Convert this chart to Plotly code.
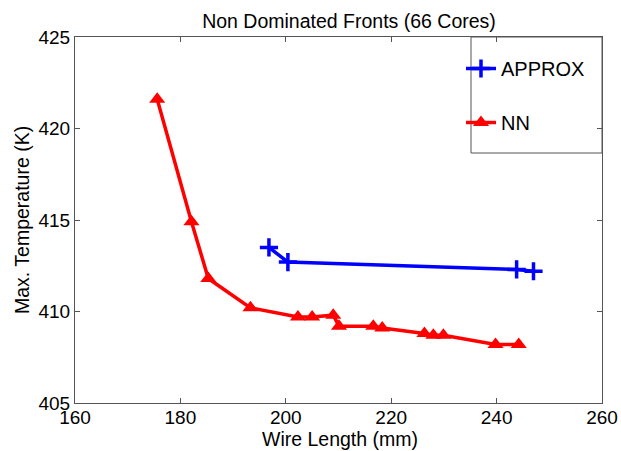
import plotly.graph_objects as go

approx_x = [196.8, 200.4, 243.8, 247.0]
approx_y = [413.5, 412.7, 412.3, 412.2]

nn_x = [175.6, 182.1, 185.3, 193.3, 202.3, 205.0, 209.0, 210.1, 216.6, 218.3, 226.3, 228.0, 229.9, 239.8, 244.2]
nn_y = [421.6, 414.9, 411.8, 410.2, 409.7, 409.7, 409.8, 409.2, 409.2, 409.1, 408.8, 408.7, 408.7, 408.2, 408.2]

x_ticks = [160, 180, 200, 220, 240, 260]
y_ticks = [405, 410, 415, 420, 425]

FONT = "Liberation Sans, Arial, sans-serif"
AX = "#555555"

L, R, T, B = 75, 19, 37, 48
W, H = 621, 451
PW, PH = W - L - R, H - T - B

fig = go.Figure()
fig.add_trace(go.Scatter(
    x=approx_x, y=approx_y, name="APPROX", mode="lines+markers",
    line=dict(color="#0000ff", width=3.5),
    marker=dict(symbol="cross-thin", size=13, line=dict(color="#0000ff", width=3.5)),
    legendgroup="a",
))
fig.add_trace(go.Scatter(
    x=nn_x, y=nn_y, name="NN", mode="lines+markers",
    line=dict(color="#ff0000", width=3.5),
    marker=dict(symbol="triangle-up", size=14, color="#ff0000"),
    legendgroup="b",
))

axis_common = dict(
    showgrid=False, zeroline=False, showline=True, linecolor=AX, linewidth=1,
    mirror="ticks", ticks="inside", ticklen=5, tickcolor=AX, automargin=False,
    tickfont=dict(family=FONT, size=19, color="#000000"),
)

fig.update_layout(
    width=W, height=H,
    margin=dict(l=L, r=R, t=T, b=B, autoexpand=False),
    paper_bgcolor="white", plot_bgcolor="white",
    font=dict(family=FONT, color="#000000"),
    title=dict(text="Non Dominated Fronts (66 Cores)", x=349/621, xanchor="center",
               y=1 - 21/451, yanchor="middle", font=dict(size=19.5, family=FONT)),
    xaxis=dict(range=[160, 260], tickvals=x_ticks, ticktext=[str(v) for v in x_ticks],
               ticklabelstandoff=-3, **axis_common),
    yaxis=dict(range=[405, 425], tickvals=y_ticks, ticktext=[str(v) for v in y_ticks],
               ticklabelstandoff=0, **axis_common),
    legend=dict(x=(461 - L) / PW, xanchor="left", y=(H - B - 49) / PH, yanchor="top",
                bgcolor="rgba(0,0,0,0)", borderwidth=0,
                font=dict(size=20, family=FONT), tracegroupgap=25,
                traceorder="grouped"),
    shapes=[dict(type="rect", xref="paper", yref="paper",
                 x0=(471 - L) / PW, x1=1.0, y0=(H - B - 153) / PH, y1=1.0,
                 line=dict(color=AX, width=1), fillcolor="white", layer="below")],
    annotations=[
        dict(text="Wire Length (mm)", xref="paper", yref="paper",
             x=(340 - L) / PW, y=-(439 - (H - B)) / PH, xanchor="center", yanchor="middle",
             showarrow=False, font=dict(size=19.5, family=FONT)),
        dict(text="Max. Temperature (K)", xref="paper", yref="paper",
             x=-(L - 22) / PW, y=0.5, xanchor="center", yanchor="middle", textangle=-90,
             showarrow=False, font=dict(size=19.5, family=FONT)),
    ],
)

fig.write_html("out.html", config={"displayModeBar": False},
               post_script="document.body.style.margin='0';")
